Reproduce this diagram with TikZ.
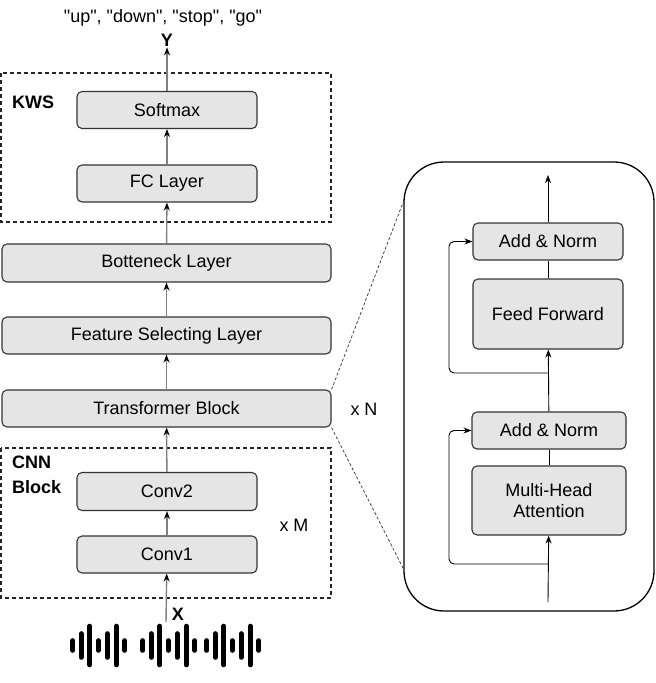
\documentclass[tikz,border=0pt]{standalone}
\usepackage{fontspec}
\setmainfont{Liberation Sans}[Ligatures=TeXOff]
\usetikzlibrary{arrows.meta, positioning, calc}
\newcommand{\lbl}{\fontsize{18}{21}\selectfont}
\newcommand{\dq}{\symbol{34}}
\tikzset{
  blk/.style={rectangle, draw=black!80, fill=black!10, rounded corners=5pt,
              line width=1.1pt, minimum width=180pt, minimum height=37pt,
              inner sep=0pt, font=\lbl, align=center},
  wide/.style={blk, minimum width=329pt},
  sub/.style={blk, minimum width=152pt},
  grp/.style={draw=black!85, line width=1.1pt, dash pattern=on 4pt off 3pt},
  arr/.style={draw=black!50, line width=1.4pt, -{Stealth[black, length=8pt, width=6pt]}},
  ln/.style={draw=black, line width=0.9pt},
  lnarr/.style={ln, -{Stealth[length=8pt, width=6pt]}},
  zoomln/.style={draw=black!80, line width=0.7pt, dash pattern=on 3pt off 2pt},
  txt/.style={inner sep=1pt, font=\lbl},
  bold/.style={txt, font=\lbl\bfseries}
}

\begin{document}
\begin{tikzpicture}[x=1pt, y=-1pt]
  \useasboundingbox (0,0) rectangle (656,683);

  % left column
  \draw[grp] (1,73) rectangle (331,222);
  \draw[grp] (1,448) rectangle (331,598);
  \node[bold, anchor=west] (kws) at (11,102) {KWS};
  \node[bold, anchor=north west, inner sep=0pt, align=left,
        font=\fontsize{18}{25}\selectfont\bfseries] (cnn) at (12,456) {CNN\\Block};

  \node[blk] (softmax) at (167,110) {Softmax};
  \node[blk] (fc) at (167,183.5) {FC Layer};
  \node[wide, minimum height=38pt] (bott) at (166.5,263) {Botteneck Layer};
  \node[wide] (fsl) at (166.5,335.5) {Feature Selecting Layer};
  \node[wide] (tfb) at (166.5,408.5) {Transformer Block};
  \node[blk, minimum height=38pt] (conv2) at (167,491.5) {Conv2};
  \node[blk] (conv1) at (167,554.5) {Conv1};

  \node[txt] (words) at (163,18) {\dq up\dq, \dq down\dq, \dq stop\dq, \dq go\dq};
  \node[bold] (ylab) at (167,40) {Y};
  \node[bold] (xlab) at (178,614) {X};
  \node[txt] (xn) at (364,409) {x N};
  \node[txt] (xm) at (294,525) {x M};
  \coordinate (xin) at (166,622);

  \draw[arr] (xin) -- (conv1);
  \draw[arr] (conv1) -- (conv2);
  \draw[arr] (conv2) -- (tfb);
  \draw[arr] (tfb) -- (fsl);
  \draw[arr] (fsl) -- (bott);
  \draw[arr] (bott) -- (fc);
  \draw[arr] (fc) -- (softmax);
  \draw[arr] (softmax) -- (ylab);

  % waveform
  \foreach \gx in {72.7,142.7,206.7}
    \foreach \dx/\h in {0/5, 8.5/12, 17/19.5, 25.5/5, 34.5/12, 43.5/19.5, 52/5}
      \draw[line width=4.6pt, line cap=round] (\gx+\dx,645.5-\h) -- (\gx+\dx,645.5+\h);

  % transformer detail
  \draw[line width=1.3pt, rounded corners=40pt] (404,162) rectangle (654,611);
  \node[sub, minimum width=150pt] (addn2) at (548,241.5) {Add \& Norm};
  \node[sub, minimum width=150pt, minimum height=70pt] (ff) at (548,314) {Feed Forward};
  \node[sub, minimum width=154pt] (addn1) at (549,430.5) {Add \& Norm};
  \node[sub, minimum width=154pt, minimum height=69pt] (mha) at (549,500.5) {Multi-Head\\Attention};

  \coordinate (tin) at (548,602);
  \coordinate (tout) at (548,175);
  \coordinate (br1) at (548,564);
  \coordinate (br2) at (548,373);
  \coordinate (z1) at (404,200);
  \coordinate (z2) at (404,570);

  \draw[lnarr] (tin) -- (mha);
  \draw[ln] (mha) -- (addn1);
  \draw[lnarr] (addn1) -- (ff);
  \draw[ln] (ff) -- (addn2);
  \draw[lnarr] (addn2) -- (tout);
  \draw[lnarr, rounded corners=5pt] (br1) -- (449,564) |- (addn1.west);
  \draw[lnarr, rounded corners=5pt] (br2) -- (449,373) |- (addn2.west);

  \draw[zoomln] (tfb.north east) -- (z1);
  \draw[zoomln] (tfb.south east) -- (z2);
\end{tikzpicture}
\end{document}
